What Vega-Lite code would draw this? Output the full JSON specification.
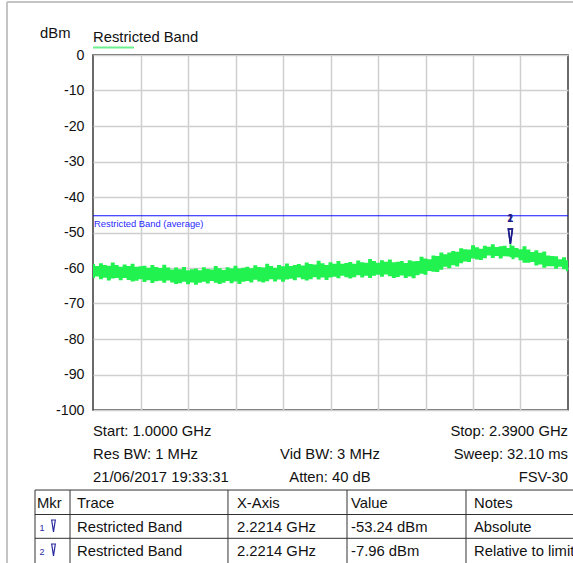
{
  "$schema": "https://vega.github.io/schema/vega-lite/v6.json",
  "width": 475,
  "height": 355,
  "autosize": {"type": "none"},
  "padding": {"left": 93, "top": 55, "right": 5, "bottom": 153},
  "background": "white",
  "config": {
    "font": "Liberation Sans",
    "view": {"stroke": "#3a3a3a", "strokeWidth": 1.5},
    "text": {"font": "Liberation Sans", "fontSize": 14.8, "color": "#111111"}
  },
  "datasets": {
    "trace": [
      {"freq": 1.0000, "level": -58.90, "low": -62.80},
      {"freq": 1.0116, "level": -59.43, "low": -62.38},
      {"freq": 1.0232, "level": -58.65, "low": -63.15},
      {"freq": 1.0348, "level": -59.18, "low": -62.73},
      {"freq": 1.0463, "level": -59.40, "low": -63.50},
      {"freq": 1.0579, "level": -58.43, "low": -62.98},
      {"freq": 1.0695, "level": -59.15, "low": -62.85},
      {"freq": 1.0811, "level": -59.68, "low": -63.43},
      {"freq": 1.0927, "level": -59.00, "low": -62.80},
      {"freq": 1.1043, "level": -59.45, "low": -63.36},
      {"freq": 1.1158, "level": -58.80, "low": -63.83},
      {"freq": 1.1274, "level": -59.65, "low": -63.59},
      {"freq": 1.1390, "level": -59.50, "low": -63.15},
      {"freq": 1.1506, "level": -59.35, "low": -63.91},
      {"freq": 1.1622, "level": -59.90, "low": -63.48},
      {"freq": 1.1738, "level": -59.15, "low": -64.24},
      {"freq": 1.1853, "level": -59.70, "low": -63.70},
      {"freq": 1.1969, "level": -59.99, "low": -63.56},
      {"freq": 1.2085, "level": -59.08, "low": -64.13},
      {"freq": 1.2201, "level": -59.86, "low": -63.49},
      {"freq": 1.2317, "level": -60.45, "low": -64.05},
      {"freq": 1.2433, "level": -59.84, "low": -64.51},
      {"freq": 1.2548, "level": -60.33, "low": -64.28},
      {"freq": 1.2664, "level": -59.71, "low": -63.84},
      {"freq": 1.2780, "level": -60.60, "low": -64.60},
      {"freq": 1.2896, "level": -60.38, "low": -64.08},
      {"freq": 1.3012, "level": -60.15, "low": -64.75},
      {"freq": 1.3128, "level": -60.63, "low": -64.13},
      {"freq": 1.3243, "level": -59.80, "low": -63.90},
      {"freq": 1.3359, "level": -60.28, "low": -64.38},
      {"freq": 1.3475, "level": -60.45, "low": -63.65},
      {"freq": 1.3591, "level": -59.43, "low": -64.13},
      {"freq": 1.3707, "level": -60.10, "low": -64.50},
      {"freq": 1.3823, "level": -60.55, "low": -64.18},
      {"freq": 1.3938, "level": -59.80, "low": -63.65},
      {"freq": 1.4054, "level": -60.15, "low": -64.33},
      {"freq": 1.4170, "level": -59.40, "low": -63.80},
      {"freq": 1.4286, "level": -60.15, "low": -64.48},
      {"freq": 1.4402, "level": -59.90, "low": -63.85},
      {"freq": 1.4518, "level": -59.65, "low": -63.63},
      {"freq": 1.4633, "level": -60.10, "low": -64.10},
      {"freq": 1.4749, "level": -59.25, "low": -63.34},
      {"freq": 1.4865, "level": -59.70, "low": -63.78},
      {"freq": 1.4981, "level": -59.85, "low": -64.11},
      {"freq": 1.5097, "level": -58.80, "low": -63.75},
      {"freq": 1.5213, "level": -59.45, "low": -63.19},
      {"freq": 1.5328, "level": -59.90, "low": -63.83},
      {"freq": 1.5444, "level": -59.15, "low": -63.26},
      {"freq": 1.5560, "level": -59.50, "low": -63.90},
      {"freq": 1.5676, "level": -58.73, "low": -63.25},
      {"freq": 1.5792, "level": -59.45, "low": -63.00},
      {"freq": 1.5908, "level": -59.18, "low": -63.45},
      {"freq": 1.6023, "level": -58.90, "low": -62.70},
      {"freq": 1.6139, "level": -59.33, "low": -63.15},
      {"freq": 1.6255, "level": -58.45, "low": -63.50},
      {"freq": 1.6371, "level": -58.88, "low": -63.15},
      {"freq": 1.6487, "level": -59.00, "low": -62.60},
      {"freq": 1.6603, "level": -57.98, "low": -63.25},
      {"freq": 1.6718, "level": -58.65, "low": -62.70},
      {"freq": 1.6834, "level": -59.13, "low": -63.35},
      {"freq": 1.6950, "level": -58.40, "low": -62.70},
      {"freq": 1.7066, "level": -58.78, "low": -62.45},
      {"freq": 1.7182, "level": -58.05, "low": -62.90},
      {"freq": 1.7298, "level": -58.83, "low": -62.15},
      {"freq": 1.7413, "level": -58.60, "low": -62.60},
      {"freq": 1.7529, "level": -58.34, "low": -62.95},
      {"freq": 1.7645, "level": -58.78, "low": -62.60},
      {"freq": 1.7761, "level": -57.91, "low": -62.05},
      {"freq": 1.7877, "level": -58.35, "low": -62.70},
      {"freq": 1.7993, "level": -58.49, "low": -62.15},
      {"freq": 1.8108, "level": -57.43, "low": -62.80},
      {"freq": 1.8224, "level": -58.06, "low": -62.15},
      {"freq": 1.8340, "level": -58.50, "low": -61.90},
      {"freq": 1.8456, "level": -57.83, "low": -62.45},
      {"freq": 1.8572, "level": -58.25, "low": -61.80},
      {"freq": 1.8688, "level": -57.58, "low": -62.35},
      {"freq": 1.8803, "level": -58.40, "low": -62.80},
      {"freq": 1.8919, "level": -58.23, "low": -62.55},
      {"freq": 1.9035, "level": -58.05, "low": -62.10},
      {"freq": 1.9151, "level": -58.58, "low": -62.85},
      {"freq": 1.9267, "level": -57.80, "low": -62.40},
      {"freq": 1.9383, "level": -58.08, "low": -62.88},
      {"freq": 1.9498, "level": -58.05, "low": -62.05},
      {"freq": 1.9614, "level": -56.83, "low": -61.63},
      {"freq": 1.9730, "level": -57.30, "low": -61.90},
      {"freq": 1.9846, "level": -57.50, "low": -60.88},
      {"freq": 1.9962, "level": -56.50, "low": -61.05},
      {"freq": 2.0078, "level": -56.60, "low": -61.13},
      {"freq": 2.0193, "level": -55.60, "low": -60.50},
      {"freq": 2.0309, "level": -56.13, "low": -59.68},
      {"freq": 2.0425, "level": -55.65, "low": -60.05},
      {"freq": 2.0541, "level": -55.18, "low": -59.23},
      {"freq": 2.0657, "level": -55.40, "low": -59.60},
      {"freq": 2.0773, "level": -54.43, "low": -58.68},
      {"freq": 2.0888, "level": -54.75, "low": -58.15},
      {"freq": 2.1004, "level": -54.78, "low": -58.33},
      {"freq": 2.1120, "level": -53.60, "low": -57.30},
      {"freq": 2.1236, "level": -54.18, "low": -57.58},
      {"freq": 2.1352, "level": -54.55, "low": -57.75},
      {"freq": 2.1468, "level": -53.73, "low": -57.23},
      {"freq": 2.1583, "level": -54.00, "low": -56.50},
      {"freq": 2.1699, "level": -53.30, "low": -57.18},
      {"freq": 2.1815, "level": -54.10, "low": -56.65},
      {"freq": 2.1931, "level": -53.90, "low": -57.33},
      {"freq": 2.2047, "level": -53.70, "low": -56.70},
      {"freq": 2.2163, "level": -54.35, "low": -56.75},
      {"freq": 2.2214, "level": -53.30, "low": -57.00},
      {"freq": 2.2278, "level": -53.70, "low": -57.50},
      {"freq": 2.2394, "level": -54.35, "low": -57.05},
      {"freq": 2.2510, "level": -54.70, "low": -57.80},
      {"freq": 2.2626, "level": -53.90, "low": -58.50},
      {"freq": 2.2742, "level": -54.80, "low": -58.50},
      {"freq": 2.2858, "level": -55.50, "low": -58.30},
      {"freq": 2.2973, "level": -55.00, "low": -59.30},
      {"freq": 2.3089, "level": -55.73, "low": -59.00},
      {"freq": 2.3205, "level": -55.35, "low": -59.90},
      {"freq": 2.3321, "level": -56.48, "low": -59.50},
      {"freq": 2.3437, "level": -56.60, "low": -59.50},
      {"freq": 2.3553, "level": -56.70, "low": -60.18},
      {"freq": 2.3668, "level": -57.50, "low": -59.65},
      {"freq": 2.3784, "level": -57.00, "low": -60.33},
      {"freq": 2.3900, "level": -57.80, "low": -60.90}
    ],
    "limit": [
      {"name": "Restricted Band (average)", "freq": 1.0, "freqEnd": 2.39, "level": -45.28}
    ],
    "markers": [
      {"mkr": "1", "freq": 2.2214, "level": -53.24},
      {"mkr": "2", "freq": 2.2214, "level": -53.24}
    ],
    "legend": [
      {"text": "Restricted Band", "freq": 1.0, "level": 3.8}
    ],
    "legendLine": [
      {"freq": 1.0, "freqEnd": 1.12, "level": 2.11}
    ],
    "info": [
      {"text": "Start: 1.0000 GHz", "freq": 1.0, "level": -107.46, "pos": "left"},
      {"text": "Stop: 2.3900 GHz", "freq": 2.39, "level": -107.46, "pos": "right"},
      {"text": "Res BW: 1 MHz", "freq": 1.0, "level": -113.94, "pos": "left"},
      {"text": "Vid BW: 3 MHz", "freq": 1.6935, "level": -113.94, "pos": "center"},
      {"text": "Sweep: 32.10 ms", "freq": 2.39, "level": -113.94, "pos": "right"},
      {"text": "21/06/2017 19:33:31", "freq": 1.0, "level": -120.42, "pos": "left"},
      {"text": "Atten: 40 dB", "freq": 1.6935, "level": -120.42, "pos": "center"},
      {"text": "FSV-30", "freq": 2.39, "level": -120.42, "pos": "right"}
    ],
    "lines": [
      {"kind": "frame", "freq": 0.7483, "freqEnd": 0.7483, "level": 14.93, "levelEnd": -160},
      {"kind": "frame", "freq": 0.7483, "freqEnd": 2.5, "level": 14.93, "levelEnd": 14.93},
      {"kind": "table", "freq": 0.8303, "freqEnd": 2.5, "level": -122.54, "levelEnd": -122.54},
      {"kind": "table", "freq": 0.8303, "freqEnd": 2.5, "level": -129.44, "levelEnd": -129.44},
      {"kind": "table", "freq": 0.8303, "freqEnd": 2.5, "level": -136.14, "levelEnd": -136.14},
      {"kind": "table", "freq": 0.8303, "freqEnd": 0.8303, "level": -122.54, "levelEnd": -160},
      {"kind": "table", "freq": 0.9327, "freqEnd": 0.9327, "level": -122.54, "levelEnd": -160},
      {"kind": "table", "freq": 1.3950, "freqEnd": 1.3950, "level": -122.54, "levelEnd": -160},
      {"kind": "table", "freq": 1.7433, "freqEnd": 1.7433, "level": -122.54, "levelEnd": -160},
      {"kind": "table", "freq": 2.0915, "freqEnd": 2.0915, "level": -122.54, "levelEnd": -160}
    ],
    "table": [
      {"text": "Mkr", "freq": 0.8361, "level": -127.61},
      {"text": "Trace", "freq": 0.9532, "level": -127.61},
      {"text": "X-Axis", "freq": 1.4214, "level": -127.61},
      {"text": "Value", "freq": 1.7550, "level": -127.61},
      {"text": "Notes", "freq": 2.1149, "level": -127.61},
      {"text": "Restricted Band", "freq": 0.9532, "level": -134.28},
      {"text": "2.2214 GHz", "freq": 1.4214, "level": -134.28},
      {"text": "-53.24 dBm", "freq": 1.7550, "level": -134.28},
      {"text": "Absolute", "freq": 2.1149, "level": -134.28},
      {"text": "Restricted Band", "freq": 0.9532, "level": -140.99},
      {"text": "2.2214 GHz", "freq": 1.4214, "level": -140.99},
      {"text": "-7.96 dBm", "freq": 1.7550, "level": -140.99},
      {"text": "Relative to limit", "freq": 2.1149, "level": -140.99}
    ],
    "tableMarkers": [
      {"mkr": "1", "freq": 0.8844, "level": -132.68},
      {"mkr": "2", "freq": 0.8844, "level": -139.44}
    ]
  },
  "encoding": {
    "x": {
      "field": "freq", "type": "quantitative",
      "scale": {"domain": [1, 2.39], "nice": false, "zero": false},
      "axis": {
        "orient": "bottom", "values": [1.139, 1.278, 1.417, 1.556, 1.695, 1.834, 1.973, 2.112, 2.251],
        "labels": false, "ticks": false, "domain": false, "title": null,
        "grid": true, "gridColor": "#cfcfcf", "gridWidth": 1.5
      }
    },
    "y": {
      "field": "level", "type": "quantitative",
      "scale": {"domain": [-100, 0], "nice": false, "zero": false},
      "axis": {
        "values": [-100, -90, -80, -70, -60, -50, -40, -30, -20, -10, 0],
        "labelExpr": "'' + datum.value",
        "ticks": false, "domain": false, "grid": true, "gridColor": "#cfcfcf", "gridWidth": 1.5,
        "labelFont": "Liberation Sans", "labelFontSize": 14.2, "labelColor": "#111111", "labelPadding": 9,
        "title": "dBm", "titleAngle": 0, "titleAlign": "right", "titleBaseline": "alphabetic",
        "titleX": -23, "titleY": -18, "titleFont": "Liberation Sans", "titleFontSize": 14.8,
        "titleFontWeight": "normal", "titleColor": "#111111"
      }
    }
  },
  "layer": [
    {
      "data": {"name": "trace"},
      "mark": {"type": "area", "color": "#22f250", "interpolate": "step", "clip": true},
      "encoding": {"y2": {"field": "low"}}
    },
    {
      "data": {"name": "limit"},
      "mark": {"type": "rule", "color": "#1010ff", "strokeWidth": 1.2},
      "encoding": {"x2": {"field": "freqEnd"}}
    },
    {
      "data": {"name": "limit"},
      "mark": {"type": "text", "align": "left", "baseline": "alphabetic", "dx": 1, "dy": 11, "fontSize": 9.4, "color": "#2a2aff"},
      "encoding": {"text": {"field": "name"}}
    },
    {
      "data": {"name": "markers"},
      "mark": {"type": "point", "shape": "M-0.27,-1L0.27,-1L0,1Z", "size": 225, "filled": false, "stroke": "#1c1c8a", "strokeWidth": 1.5, "opacity": 1, "yOffset": -7.5}
    },
    {
      "data": {"name": "markers"},
      "mark": {"type": "text", "align": "center", "baseline": "alphabetic", "dy": -22, "fontSize": 10, "fontWeight": "bold", "color": "#1c1c8a"},
      "encoding": {"text": {"field": "mkr"}}
    },
    {
      "data": {"name": "legend"},
      "mark": {"type": "text", "align": "left", "baseline": "alphabetic", "fontSize": 14.8, "color": "#111111"},
      "encoding": {"text": {"field": "text"}}
    },
    {
      "data": {"name": "legendLine"},
      "mark": {"type": "rule", "color": "#6ef08e", "strokeWidth": 2},
      "encoding": {"x2": {"field": "freqEnd"}}
    },
    {
      "data": {"name": "info"},
      "transform": [{"filter": "datum.pos === 'left'"}],
      "mark": {"type": "text", "align": "left", "baseline": "alphabetic", "fontSize": 14.8},
      "encoding": {"text": {"field": "text"}}
    },
    {
      "data": {"name": "info"},
      "transform": [{"filter": "datum.pos === 'center'"}],
      "mark": {"type": "text", "align": "center", "baseline": "alphabetic", "fontSize": 14.8},
      "encoding": {"text": {"field": "text"}}
    },
    {
      "data": {"name": "info"},
      "transform": [{"filter": "datum.pos === 'right'"}],
      "mark": {"type": "text", "align": "right", "baseline": "alphabetic", "fontSize": 14.8},
      "encoding": {"text": {"field": "text"}}
    },
    {
      "data": {"name": "lines"},
      "transform": [{"filter": "datum.kind === 'frame'"}],
      "mark": {"type": "rule", "color": "#c4c4c4", "strokeWidth": 2},
      "encoding": {"x2": {"field": "freqEnd"}, "y2": {"field": "levelEnd"}}
    },
    {
      "data": {"name": "lines"},
      "transform": [{"filter": "datum.kind === 'table'"}],
      "mark": {"type": "rule", "color": "#333333", "strokeWidth": 1},
      "encoding": {"x2": {"field": "freqEnd"}, "y2": {"field": "levelEnd"}}
    },
    {
      "data": {"name": "table"},
      "mark": {"type": "text", "align": "left", "baseline": "alphabetic", "fontSize": 14.8},
      "encoding": {"text": {"field": "text"}}
    },
    {
      "data": {"name": "tableMarkers"},
      "mark": {"type": "point", "shape": "M-0.3,-1L0.3,-1L0,1Z", "size": 144, "filled": false, "stroke": "#2a2aa0", "strokeWidth": 1.2, "opacity": 1}
    },
    {
      "data": {"name": "tableMarkers"},
      "mark": {"type": "text", "align": "center", "baseline": "alphabetic", "dx": -11.5, "dy": 5, "fontSize": 9, "color": "#2a2aa0"},
      "encoding": {"text": {"field": "mkr"}}
    }
  ]
}
